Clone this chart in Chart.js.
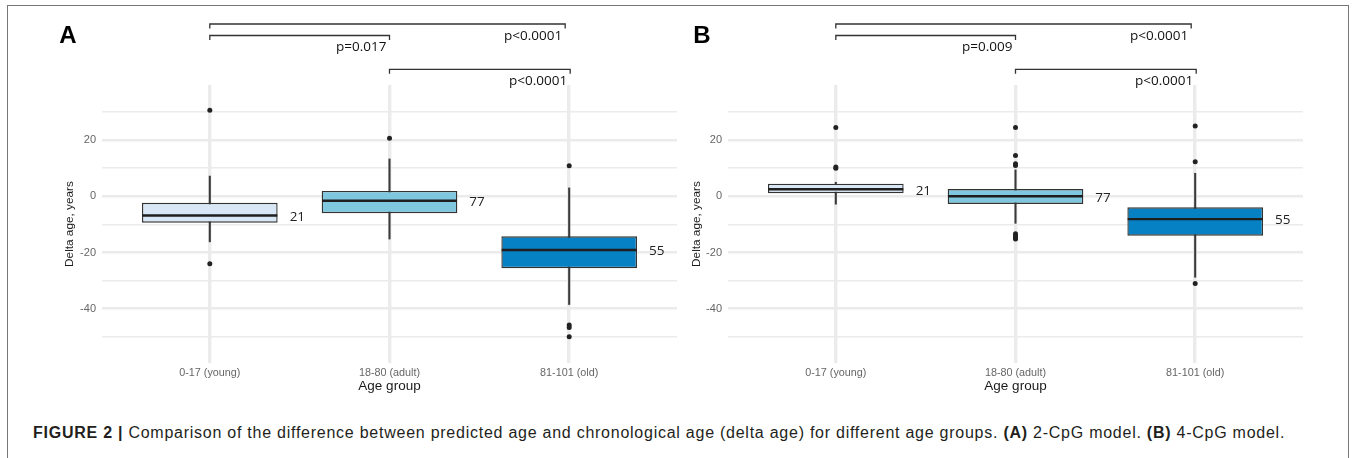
<!DOCTYPE html>
<html>
<head>
<meta charset="utf-8">
<script src="https://cdn.jsdelivr.net/npm/chart.js@4.4.0/dist/chart.umd.min.js"></script>
<style>
    body { margin: 0; background: #fff; }
    #figure { position: relative; width: 1354px; height: 458px; overflow: hidden; background: #fff; }
    #frame { position: absolute; left: 7px; top: 5px; width: 1340px; height: 480px; border: 1.5px solid #777; }
    #chartA, #chartB { position: absolute; top: 0; }
    #chartA { left: 0; }
    #chartB { left: 626px; }
    #caption {
        position: absolute; left: 33px; top: 424px; white-space: nowrap;
        font-family: 'Liberation Sans', Arial, sans-serif; font-size: 16px; line-height: 18px; color: #231f20;
    }
</style>
</head>
<body>
<div id="figure">
    <div id="frame"></div>
    <canvas id="chartA" width="680" height="400"></canvas>
    <canvas id="chartB" width="680" height="400"></canvas>
    <div id="caption"><b>FIGURE 2 |</b> Comparison of the difference between predicted age and chronological age (delta age) for different age groups. <b>(A)</b> 2-CpG model. <b>(B)</b> 4-CpG model.</div>
</div>
<script>
const groups = ['0-17 (young)', '18-80 (adult)', '81-101 (old)'];
const counts = [21, 77, 55];
const yTicks = [-50, -40, -30, -20, -10, 0, 10, 20, 30];
const boxColors = ['#d8e7f5', '#7fc6df', '#0681c3'];

// A: 2-CpG model
const aLow = [-16.2, -15.2, -38.5];
const aQ1 = [-9.4, -6.0, -25.6];
const aMedian = [-6.8, -1.6, -19.1];
const aQ3 = [-2.3, 1.9, -14.2];
const aHigh = [7.2, 13.3, 3.0];
const aOutliers = [[30.6, -24.0], [20.7], [10.9, -45.8, -46.7, -50.0]];
const aPValues = ['p=0.017', 'p<0.0001', 'p<0.0001']; // young-adult, young-old, adult-old

// B: 4-CpG model
const bLow = [-2.8, -9.6, -28.8];
const bQ1 = [1.1, -2.7, -14.0];
const bMedian = [2.5, 0.0, -8.1];
const bQ3 = [4.5, 2.6, -3.9];
const bHigh = [5.0, 9.4, 8.2];
const bOutliers = [[24.5, 10.0, 10.4], [24.5, 14.5, 11.6, 11.0, -13.3, -14.0, -14.7, -15.2], [25.0, 12.3, -31.0]];
const bPValues = ['p=0.009', 'p<0.0001', 'p<0.0001'];

const labelFont = "'Open Sans', 'DejaVu Sans', sans-serif";
const axisFont = "'Liberation Sans', Arial, sans-serif";

/**
 * Panel letter, counts next to each box and the p-value brackets.
 */
const annotate = {
    id: 'annotate',
    afterDraw(chart, args, opts) {
        const {ctx, scales: {x, y}} = chart;
        const boxes = chart.getDatasetMeta(2).data;
        ctx.save();

        ctx.fillStyle = '#000';
        ctx.font = 'bold 24px ' + axisFont;
        ctx.textAlign = 'center';
        ctx.textBaseline = 'middle';
        ctx.fillText(opts.letter, opts.letterX, 36);

        ctx.fillStyle = '#222';
        ctx.font = '13.5px ' + labelFont;
        ctx.textAlign = 'left';
        boxes.forEach((bar, i) => {
            ctx.fillText(String(counts[i]), bar.x + bar.width / 2 + 12, y.getPixelForValue(opts.medians[i]) + 1.5);
        });

        // [from, to, bracket y, right end shift, label]
        const brackets = [
            [1, 3, 24, -4, opts.pValues[1]],
            [1, 2, 35.5, 0, opts.pValues[0]],
            [2, 3, 69.3, 1, opts.pValues[2]]
        ];
        ctx.strokeStyle = '#333';
        ctx.lineWidth = 1.3;
        ctx.textAlign = 'right';
        brackets.forEach(([from, to, by, shift, text]) => {
            const x1 = x.getPixelForValue(from);
            const x2 = x.getPixelForValue(to) + shift;
            ctx.beginPath();
            ctx.moveTo(x1, by + 4.5);
            ctx.lineTo(x1, by);
            ctx.lineTo(x2, by);
            ctx.lineTo(x2, by + 4.5);
            ctx.stroke();
            ctx.fillStyle = '#111';
            ctx.fillText(text, x2 - 3, by + 12);
        });
        ctx.restore();
    }
};

function createBoxChart(id, letter, letterX, titlePad, low, q1, median, q3, high, outliers, pValues) {
    const points = [];
    outliers.forEach((list, i) => list.forEach(v => points.push({x: i + 1, y: v})));

    return new Chart(document.getElementById(id).getContext('2d'), {
        type: 'bar',
        data: {
            datasets: [{
                type: 'scatter',
                data: points,
                pointRadius: 2.5,
                pointBackgroundColor: '#222',
                pointBorderWidth: 0,
                order: 0
            }, {
                type: 'scatter',
                data: median.map((v, i) => ({x: i + 1, y: v})),
                pointStyle: 'line',
                pointRadius: 67.5,
                pointBorderColor: '#1e1e1e',
                pointBorderWidth: 2.4,
                order: 1
            }, {
                data: q1.map((v, i) => ({x: i + 1, y: [v, q3[i]]})),
                backgroundColor: boxColors,
                borderColor: '#333',
                borderWidth: 1.4,
                borderSkipped: false,
                grouped: false,
                categoryPercentage: 1,
                barPercentage: 0.755,
                order: 2
            }, {
                data: low.map((v, i) => ({x: i + 1, y: [v, high[i]]})),
                backgroundColor: '#3a3a3a',
                barThickness: 1.4,
                grouped: false,
                order: 3
            }]
        },
        options: {
            responsive: false,
            animation: false,
            events: [],
            layout: {
                autoPadding: false,
                padding: {left: 0, right: 3, top: 85, bottom: 0}
            },
            plugins: {
                legend: {display: false},
                tooltip: {enabled: false},
                annotate: {letter: letter, letterX: letterX, medians: median, pValues: pValues}
            },
            scales: {
                x: {
                    type: 'linear',
                    min: 0.4,
                    max: 3.6,
                    offset: false,
                    afterBuildTicks: scale => { scale.ticks = groups.map((g, i) => ({value: i + 1})); },
                    afterFit: scale => { scale.height = 37; },
                    grid: {color: '#ebebeb', lineWidth: 3.4, drawTicks: false, offset: false},
                    border: {display: false},
                    ticks: {
                        padding: 4,
                        autoSkip: false,
                        maxRotation: 0,
                        color: '#666',
                        font: {family: axisFont, size: 10.8},
                        callback: v => groups[Math.round(v) - 1]
                    },
                    title: {
                        display: true,
                        text: 'Age group',
                        color: '#1a1a1a',
                        font: {family: axisFont, size: 13.5},
                        padding: {top: 0, bottom: 5.2}
                    }
                },
                y: {
                    min: -59.3,
                    max: 39.6,
                    afterBuildTicks: scale => { scale.ticks = yTicks.map(v => ({value: v})); },
                    afterFit: scale => { scale.width = 102; },
                    grid: {
                        color: '#ebebeb',
                        lineWidth: c => (c.tick && c.tick.value % 20 === 0) ? 2.6 : 1.6,
                        drawTicks: false
                    },
                    border: {display: false},
                    ticks: {
                        padding: 6,
                        color: '#666',
                        font: {family: axisFont, size: 11},
                        callback: v => (v % 20 === 0) ? String(v) : ''
                    },
                    title: {
                        display: true,
                        text: 'Delta age, years',
                        color: '#1a1a1a',
                        font: {family: axisFont, size: 11.8},
                        padding: {top: titlePad, bottom: 0}
                    }
                }
            }
        },
        plugins: [annotate]
    });
}

createBoxChart('chartA', 'A', 68, 62.2, aLow, aQ1, aMedian, aQ3, aHigh, aOutliers, aPValues);
createBoxChart('chartB', 'B', 76, 63.6, bLow, bQ1, bMedian, bQ3, bHigh, bOutliers, bPValues);

// stretch the caption to the width it has in the figure
const caption = document.getElementById('caption');
const captionChars = caption.textContent.length;
caption.style.letterSpacing = ((1252 - caption.scrollWidth) / captionChars) + 'px';
</script>
</body>
</html>
